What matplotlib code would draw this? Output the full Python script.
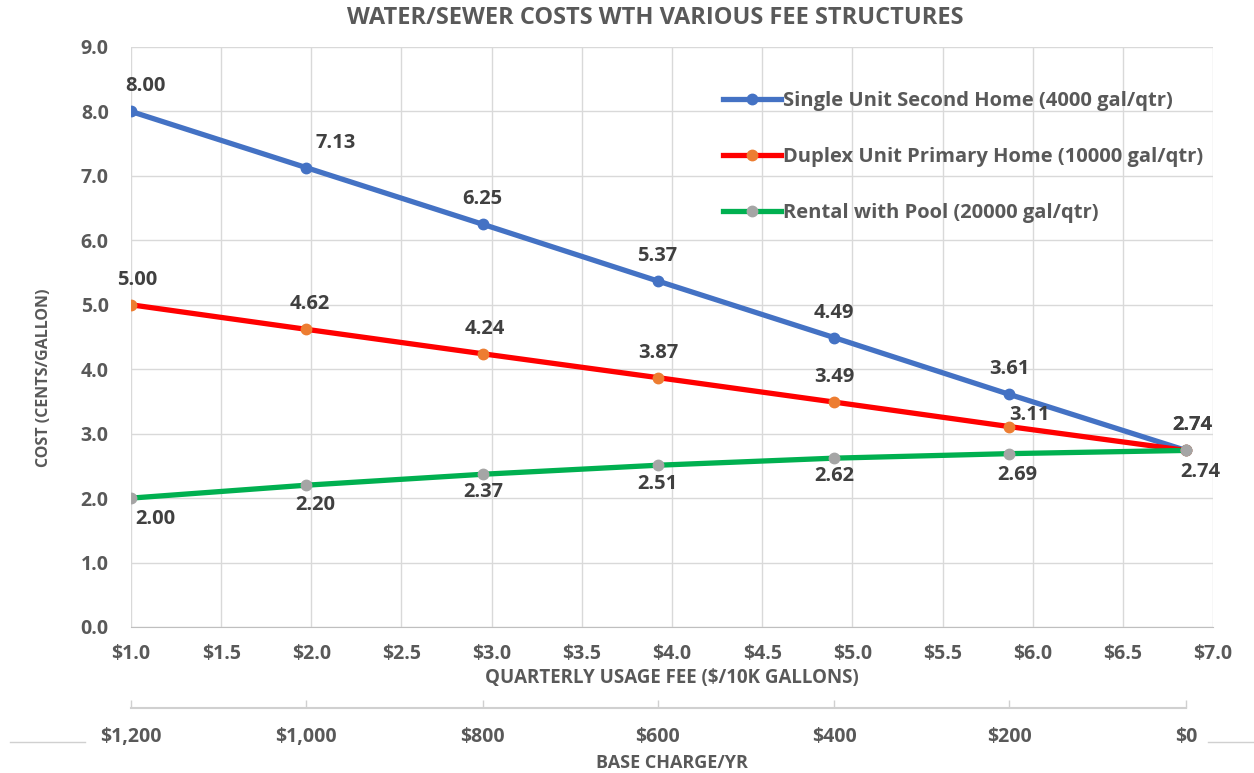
import matplotlib
matplotlib.use("Agg")
import matplotlib.pyplot as plt
from matplotlib.lines import Line2D

# ---------------- data ----------------
usage_fee = [1.0, 1.97, 2.95, 3.92, 4.9, 5.87, 6.85]
base_charge = ["$1,200", "$1,000", "$800", "$600", "$400", "$200", "$0"]
single_unit = [8.00, 7.13, 6.25, 5.37, 4.49, 3.61, 2.74]
duplex_unit = [5.00, 4.62, 4.24, 3.87, 3.49, 3.11, 2.74]
rental_pool = [2.00, 2.20, 2.37, 2.51, 2.62, 2.69, 2.74]
series_names = ["Single Unit Second Home (4000 gal/qtr)",
                "Duplex Unit Primary Home (10000 gal/qtr)",
                "Rental with Pool (20000 gal/qtr)"]

# label offsets in pixels (style)
off_single = [(14, 25), (30, 25), (0, 25), (0, 25), (0, 25), (0, 25), (6, 25)]
off_duplex = [(6, 25), (4, 25), (2, 25), (1, 25), (0, 25), (20, 12), (6, 25)]
off_rental = [(24, -21), (9, -20), (1, -18), (0, -19), (0, -18), (8, -21), (14, -22)]

FONT = "Open Sans"
TXT = "#595959"
DARK = "#404040"

fig = plt.figure(figsize=(12.54, 7.73), dpi=100)
W, H = 1254, 773
left, right = 131 / W, 1213 / W
top, bottom = 1 - 47 / H, 1 - 627 / H
ax = fig.add_axes([left, bottom, right - left, top - bottom])

colors = [("#4472C4", "#4472C4"), ("#FF0000", "#ED7D31"), ("#00B050", "#A5A5A5")]
all_series = [single_unit, duplex_unit, rental_pool]
all_offs = [off_single, off_duplex, off_rental]

for ys, (lc, mc), name in zip(all_series, colors, series_names):
    ax.plot(usage_fee, ys, color=lc, lw=3.8, zorder=3, solid_capstyle="round", label=name)
for ys, (lc, mc) in zip(all_series, colors):
    ax.plot(usage_fee, ys, ls="none", marker="o", ms=7.5, mfc=mc, mec=mc, zorder=4)

for ys, offs in zip(all_series, all_offs):
    for xv, yv, (dx, dy) in zip(usage_fee, ys, offs):
        ax.annotate(f"{yv:.2f}", (xv, yv), xytext=(dx, dy), textcoords="offset pixels",
                    ha="center", va="center", fontsize=14.5, fontweight="bold",
                    color=DARK, family=FONT, zorder=5)

ax.set_xlim(1.0, 7.0)
ax.set_ylim(0, 9.0)
ax.set_xticks([1.0 + 0.5 * i for i in range(13)])
ax.set_xticklabels([f"${1.0 + 0.5 * i:.1f}" for i in range(13)])
ax.set_yticks(range(10))
ax.set_yticklabels([f"{i:.1f}" for i in range(10)])
ax.grid(True, color="#d9d9d9", lw=1.0, zorder=0)
ax.set_axisbelow(True)
for s in ["top", "right", "left"]:
    ax.spines[s].set_visible(False)
ax.spines["bottom"].set_color("#bfbfbf")
ax.tick_params(length=0, pad=12, labelsize=14, labelcolor=TXT)
for lab in ax.get_xticklabels() + ax.get_yticklabels():
    lab.set_fontweight("bold")
    lab.set_family(FONT)
ax.tick_params(axis="y", pad=16)

ax.set_xlabel("QUARTERLY USAGE FEE ($/10K GALLONS)", fontsize=13.5, fontweight="bold",
              color=TXT, family=FONT, labelpad=3)
ax.set_ylabel("COST (CENTS/GALLON)", fontsize=11.5, fontweight="bold",
              color=TXT, family=FONT)
ax.yaxis.set_label_coords(-0.073, 0.43)
fig.text(0.5 * (left + right) - 0.013, 1 - 18 / H, "WATER/SEWER COSTS WTH VARIOUS FEE STRUCTURES",
         ha="center", va="center", fontsize=17, fontweight="bold", color=TXT, family=FONT)

# legend
handles = [Line2D([0], [0], color=lc, lw=3.8, marker="o", ms=7.5, mfc=mc, mec=mc)
           for (lc, mc) in colors]
leg = ax.legend(handles, series_names, loc="upper left",
                bbox_to_anchor=(705 / W, 1 - 73 / H), bbox_transform=fig.transFigure,
                frameon=False, handlelength=2.85, handletextpad=0.1, labelspacing=1.78,
                prop={"family": FONT, "weight": "bold", "size": 14.5})
for t in leg.get_texts():
    t.set_color(TXT)

# secondary axis: base charge
ax2 = fig.add_axes([left, 1 - 708 / H, right - left, 0.0001])
ax2.set_xlim(1.0, 7.0)
ax2.set_yticks([])
for s in ["top", "right", "left"]:
    ax2.spines[s].set_visible(False)
ax2.spines["bottom"].set_color("#d0d0d0")
ax2.spines["bottom"].set_linewidth(1.5)
ax2.spines["bottom"].set_bounds(usage_fee[0], usage_fee[-1])
ax2.patch.set_visible(False)
ax2.set_xticks(usage_fee)
ax2.set_xticklabels(base_charge)
ax2.tick_params(axis="x", direction="in", length=6, width=1, color="#d0d0d0",
                pad=14, labelsize=14, labelcolor=TXT)
for lab in ax2.get_xticklabels():
    lab.set_fontweight("bold")
    lab.set_family(FONT)
ax2.set_xlabel("BASE CHARGE/YR", fontsize=13, fontweight="bold", color=TXT,
               family=FONT, labelpad=5)

# decorative side lines
fig.add_artist(Line2D([10 / W, 85 / W], [1 - 742 / H] * 2, color="#d0d0d0", lw=1))
fig.add_artist(Line2D([1208 / W, 1254 / W], [1 - 742 / H] * 2, color="#d0d0d0", lw=1))

fig.savefig("out.png", dpi=100, facecolor="white")
